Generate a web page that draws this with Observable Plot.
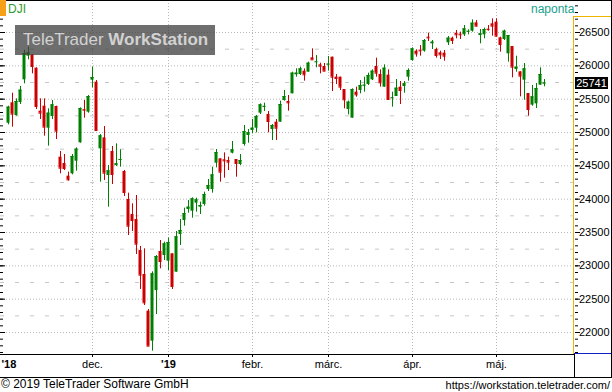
<!DOCTYPE html>
<html><head><meta charset="utf-8">
<script src="https://cdn.jsdelivr.net/npm/d3@7"></script>
<script src="https://cdn.jsdelivr.net/npm/@observablehq/plot@0.6"></script>
<style>
body{margin:0;background:#fff;}
#wrap{position:relative;width:612px;height:392px;overflow:hidden;font-family:"Liberation Sans",Arial,sans-serif;color:#000;}
#wrap svg{position:absolute;left:0;top:0;}
.ln{position:absolute;}
</style></head><body><div id="wrap"></div>
<script>
// Daily OHLC of DJI, 1 Nov 2018 .. 17 May 2019 (trading days)
const opens = [25140,25445,25255,25450,25790,26145,26165,25965,25320,25395,25065,25240,25390,24630,24535,24345,24380,24570,24845,25345,25305,
25785,25755,24755,24920,24355,24715,24505,24585,24415,23995,23770,23695,23230,22870,22320,21870,22630,23215,23155,
23070,23180,22905,23470,23680,23845,23820,23940,23880,23920,24145,24145,24540,24605,24590,24580,24690,24595,24520,24820,24955,
25030,25065,25290,25385,25270,25045,25155,25155,25480,25465,25580,25865,25870,25920,25905,26120,26055,26015,25990,
26015,26130,25830,25830,25645,25345,25215,25605,25630,25700,25720,25790,25990,25870,25680,25860,25515,25540,25680,25690,25830,
26080,26220,26235,26220,26430,26330,26245,26195,26190,26345,26415,26490,26475,26465,26510,26520,26645,26455,26465,26550,26630,
26655,26420,26395,26180,26290,25945,25910,25785,25585,25410,25430,25710,25730];
const highs = [25395,25590,25505,25690,26235,26280,26170,25970,25505,25505,25355,25480,25395,24715,24670,24405,24670,24770,25370,25480,25555,
25980,25780,24970,25090,24505,24790,24830,24740,24430,24090,23930,24055,23290,23255,22345,22910,23155,23380,23355,
23415,23180,23515,23695,23865,23980,24020,24015,23955,24105,24295,24480,24745,24605,24695,24630,24865,24595,24670,25105,25045,
25195,25255,25430,25440,25315,25120,25195,25470,25630,25555,25905,25955,25980,25955,26055,26255,26155,26040,26035,
26140,26130,25870,25830,25645,25470,25655,25680,25780,25830,25890,25940,26115,25940,26015,25940,25605,25795,25765,25765,25955,
26270,26240,26305,26395,26490,26380,26265,26220,26230,26440,26430,26530,26505,26605,26540,26690,26680,26545,26565,26605,26705,
26705,26430,26535,26455,26290,26145,25910,26035,25585,25705,25735,25970,25795];
const lows = [25115,25080,25245,25420,25730,26090,25880,25345,25195,24945,24795,25195,24895,24380,24430,24270,24365,24420,24840,25215,25290,
25670,25020,24255,24280,23880,24220,24490,24480,24040,23455,23515,23170,22645,22405,21795,21720,22270,22955,23080,
22930,22645,22905,23305,23595,23790,23715,23805,23770,23895,24115,24090,24470,24255,24315,24430,24680,24330,24505,24795,24840,
24980,24995,25270,25315,24995,24880,24880,25155,25470,25320,25580,25830,25855,25770,25905,26090,25970,25880,25920,
25920,25615,25720,25630,25355,25265,25215,25530,25580,25605,25705,25780,25830,25680,25680,25490,25380,25540,25420,25590,25770,
26070,26130,26145,26205,26365,26245,26115,26095,26070,26305,26320,26405,26395,26440,26465,26505,26585,26330,26405,26520,26445,
26435,26205,26380,26055,25820,25905,25535,25485,25245,25395,25360,25710,25685];
const closes = [25380,25275,25465,25635,26185,26195,25990,25390,25290,25080,25290,25415,25020,24465,24460,24290,24640,24750,25360,25335,25540,
25825,25030,24950,24390,24425,24370,24530,24595,24100,23595,23680,23325,22860,22445,21795,22880,23140,23065,23330,
23350,22690,23435,23530,23785,23880,24005,23990,23905,24070,24205,24365,24700,24405,24575,24555,24740,24535,24580,25015,24995,
25065,25240,25415,25392,25165,25105,25065,25420,25540,25445,25890,25890,25955,25865,26040,26090,26060,25995,25920,
26025,25830,25810,25680,25490,25455,25645,25565,25705,25710,25855,25920,25890,25745,25965,25495,25520,25665,25630,25730,25930,
26255,26180,26225,26380,26420,26355,26155,26165,26145,26415,26380,26465,26465,26555,26518,26640,26595,26480,26545,26543,26595,
26445,26320,26520,26455,25980,25980,25845,25955,25345,25535,25660,25870,25741];

const monthStart  = [21, 40, 61, 80, 101, 122];           // first trading day of Dec..May
const monthLabels = ["dec.", "'19", "febr.", "márc.", "ápr.", "máj."];
const monthBold   = [false, true, false, false, false, false];
const firstLabel  = "'18";
const yLabels     = [22000,22500,23000,23500,24000,24500,25000,25500,26000,26500];
const yHalf       = [22250,22750,23250,23750,24250,24750,25250,25750,26250];
const yMinor      = d3.range(21700, 27000, 100);
const lastPrice   = 25741;
const symbol = "DJI", period = "naponta";
const copyright = "© 2019 TeleTrader Software GmbH", url = "https://workstation.teletrader.com/";

const data = opens.map((o, i) => ({i, open: o, high: highs[i], low: lows[i], close: closes[i]}));
const GREEN = "#008000", RED = "#cc0000";
const col = d => d.close >= d.open ? GREEN : RED;
const FONT = "Liberation Sans, Arial, sans-serif";

const chart = Plot.plot({
  width: 612, height: 378,
  marginLeft: 0, marginRight: 38, marginTop: 0, marginBottom: 24,
  style: {fontFamily: FONT, fontSize: "11px", color: "#000", background: "transparent"},
  x: {domain: [-2, 141.5], axis: null},
  y: {domain: [21670, 26980], axis: null},
  marks: [
    Plot.ruleY(yHalf, {stroke: "#c8c8c8", strokeDasharray: "4,11"}),
    Plot.ruleY(yLabels, {stroke: "#b8b8b8", strokeDasharray: "1,2"}),
    Plot.ruleX(monthStart, {stroke: "#b8b8b8", strokeDasharray: "1,2"}),
    Plot.ruleX(data, {x: "i", y1: "low", y2: "high", stroke: col}),
    Plot.rect(data, {x1: d => d.i - 0.375, x2: d => d.i + 0.375, y1: "open", y2: "close", fill: col}),
    Plot.ruleY(data, {x1: d => d.i - 0.375, x2: d => d.i + 0.375, y: "close", stroke: col}),
    Plot.axisY(yMinor, {anchor: "right", tickSize: 3, tickFormat: () => "", label: null, stroke: "#000"}),
    Plot.axisY(yLabels, {anchor: "right", tickSize: 5, tickFormat: () => "", label: null, stroke: "#000"}),
    Plot.axisY(yMinor, {anchor: "left", tickSize: -3, tickFormat: () => "", label: null, stroke: "#000"}),
    Plot.axisY(yLabels, {anchor: "left", tickSize: -5, tickFormat: () => "", label: null, stroke: "#000"}),
    Plot.text(yLabels, {y: d => d, text: d => String(d), frameAnchor: "right", textAnchor: "end", dx: 35, fontSize: 11, fill: "#000"}),
    Plot.axisX(monthStart, {anchor: "bottom", tickSize: 3, tickFormat: () => "", label: null, stroke: "#000"}),
    Plot.text(monthStart.filter((d, k) => !monthBold[k]), {x: d => d, text: d => monthLabels[monthStart.indexOf(d)], frameAnchor: "bottom", dy: 13.5, fontSize: 11, fill: "#000"}),
    Plot.text(monthStart.filter((d, k) => monthBold[k]), {x: d => d, text: d => monthLabels[monthStart.indexOf(d)], frameAnchor: "bottom", dy: 13.5, fontSize: 11, fontWeight: "bold", fill: "#000"}),
    Plot.text([firstLabel], {text: d => d, frameAnchor: "bottom-left", dx: 1, dy: 13.5, textAnchor: "start", fontSize: 11, fontWeight: "bold", fill: "#000"})
  ]
});

const wrap = document.getElementById("wrap");
wrap.appendChild(chart);

function box(css, html) {
  const e = document.createElement("div");
  e.className = "ln";
  e.style.cssText = css;
  if (html !== undefined) e.innerHTML = html;
  wrap.appendChild(e);
  return e;
}
// frame lines
box("left:0;top:0;width:612px;height:1px;background:#000;");
box("left:611px;top:0;width:1px;height:378px;background:#000;");
box("left:0;top:354px;width:574px;height:1px;background:#000;");
box("left:0;top:377px;width:612px;height:1px;background:#000;");
box("left:574px;top:354px;width:1px;height:24px;background:#000;");
box("left:573px;top:16px;width:1px;height:338px;background:#f0b400;");
box("left:573px;top:16px;width:38px;height:1px;background:#f0b400;");
box("left:574px;top:353px;width:37px;height:1px;background:#1020c0;");
// symbol + period
box("left:0;top:0;width:6px;height:16px;background:#f7a01a;");
box("left:8px;top:2px;font-size:12px;line-height:14px;color:#2f9a2f;", symbol);
box("left:531px;top:2px;font-size:12px;line-height:14px;color:#19a08a;", period);
// watermark
box("left:15px;top:25px;width:200px;height:30px;background:rgba(62,62,62,0.75);");
box("left:23px;top:29.5px;font-size:17px;line-height:20px;color:#d2d2d2;white-space:nowrap;", "TeleTrader <b>WorkStation</b>");
// last price label
const yy = chart.scale("y").apply(lastPrice);
box(`left:575px;top:${yy - 5.5}px;width:33px;height:12px;background:#000;color:#fff;font-size:11px;line-height:12px;text-align:center;`, String(lastPrice));
// footer
box("left:1px;top:377px;font-size:12px;line-height:15px;", copyright);
box("right:2px;top:378px;font-size:11px;line-height:14px;", url);
</script></body></html>
